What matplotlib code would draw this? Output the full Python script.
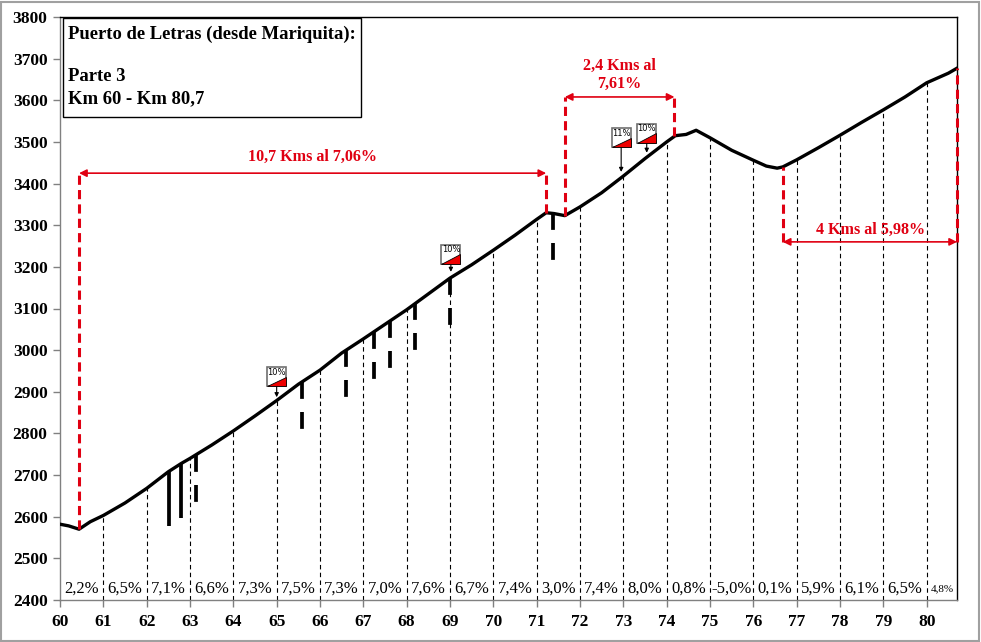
import numpy as np
import matplotlib
matplotlib.use("Agg")
import matplotlib.pyplot as plt
from matplotlib.patches import Rectangle, Polygon

# ---------------- data ----------------
km = [60.0, 60.2, 60.44, 60.7, 61.0, 61.5, 62.0, 62.5, 62.8, 63.0, 63.5, 64.0,
      64.5, 65.0, 65.5, 66.0, 66.5, 67.0, 67.5, 68.0, 68.5, 69.0, 69.5, 70.0,
      70.5, 71.0, 71.22, 71.4, 71.65, 72.0, 72.5, 73.0, 73.5, 74.0, 74.2, 74.45,
      74.68, 75.0, 75.5, 76.0, 76.3, 76.55, 76.68, 77.0, 77.5, 78.0, 78.5, 79.0,
      79.5, 80.0, 80.5, 80.7]
elev = [2582, 2578, 2570, 2588, 2603, 2633, 2668, 2708, 2728, 2740, 2772, 2806,
        2842, 2879, 2918, 2952, 2993, 3027, 3062, 3097, 3135, 3173, 3205, 3240,
        3276, 3314, 3330, 3328, 3323, 3344, 3378, 3418, 3460, 3500, 3515, 3518,
        3528, 3510, 3480, 3456, 3442, 3437, 3440, 3457, 3486, 3516, 3547, 3577,
        3608, 3642, 3665, 3677]

km_ticks = list(range(60, 81))
grad_labels = ["2,2%", "6,5%", "7,1%", "6,6%", "7,3%", "7,5%", "7,3%", "7,0%",
               "7,6%", "6,7%", "7,4%", "3,0%", "7,4%", "8,0%", "0,8%", "-5,0%",
               "0,1%", "5,9%", "6,1%", "6,5%", "4,8%"]
grad_pos = [60.5, 61.5, 62.5, 63.5, 64.5, 65.5, 66.5, 67.5, 68.5, 69.5, 70.5,
            71.5, 72.5, 73.5, 74.5, 75.5, 76.5, 77.5, 78.5, 79.5, 80.35]

solid_km = [62.52, 62.79]
solid_bottom = [2577, 2598]
dash_km = [63.13, 65.59, 66.6, 67.24, 67.62, 68.2, 69.0, 71.38]
dash_bottom = [2620, 2792, 2872, 2920, 2943, 2983, 3044, 3200]

flag_km = [65.0, 69.02, 72.95, 73.54]
flag_elev = [2936, 3230, 3510, 3521]
flag_text = ["10%", "10%", "11%", "10%"]
flag_tip = [2887, 3188, 3428, 3474]

climb_start = [60.44, 71.65, 76.68]
climb_end = [71.22, 74.18, 80.7]
climb_arrow_elev = [3425, 3608, 3260]
climb_text = ["10,7 Kms al 7,06%", "2,4 Kms al\n7,61%", "4 Kms al 5,98%"]
climb_text_km = [65.82, 72.9, 78.7]
climb_text_elev = [3464, 3661, 3289]

# ---------------- figure ----------------
SERIF = ["Liberation Serif", "DejaVu Serif"]
RED = "#E00012"
W, H = 981, 642
fig = plt.figure(figsize=(W / 100, H / 100), dpi=100)
ax = fig.add_axes([60 / W, 1 - 600 / H, (957 - 60) / W, (600 - 17) / H])

ax.set_xlim(60, 80.7)
ax.set_ylim(2400, 3800)

def prof(x):
    return np.interp(x, km, elev)

# thin km dashed lines
for k in km_ticks[1:]:
    ax.plot([k, k], [2400, prof(k)], color="black", lw=0.8,
            linestyle=(0, (4, 3)), zorder=1)

# thick markers
for k, b in zip(solid_km, solid_bottom):
    ax.plot([k, k], [b, prof(k)], color="black", lw=2.7, solid_capstyle="butt", zorder=2)
for k, b in zip(dash_km, dash_bottom):
    ax.plot([k, k], [prof(k), b], color="black", lw=2.7, linestyle=(0, (4.5, 3.5)),
            dash_capstyle="butt", zorder=2)

# profile
ax.plot(km, elev, color="black", lw=2.4, zorder=3, solid_joinstyle="round")

# climbs
for s, e, ya, t, tx, ty in zip(climb_start, climb_end, climb_arrow_elev,
                               climb_text, climb_text_km, climb_text_elev):
    for xx in (s, e):
        p = prof(xx)
        ax.plot([xx, xx], [min(p, ya), max(p, ya)], color=RED, lw=2.2,
                linestyle=(0, (3, 1.7)), zorder=4, clip_on=False)
    ax.annotate("", xy=(e, ya), xytext=(s, ya),
                arrowprops=dict(arrowstyle="<|-|>", color=RED, lw=1.2,
                                mutation_scale=11, shrinkA=0, shrinkB=0),
                zorder=4, annotation_clip=False)
    ax.text(tx, ty, t, color=RED, fontsize=11.6, fontweight="bold",
            family=SERIF, ha="center", va="center", linespacing=1.2, zorder=4)

# flags
fw, fh = 0.44, 46
for fk, fe, ft, tip in zip(flag_km, flag_elev, flag_text, flag_tip):
    x0, y0 = fk - fw / 2, fe - fh / 2
    ax.add_patch(Rectangle((x0, y0), fw, fh, facecolor="white",
                           edgecolor="#707070", lw=1.2, zorder=6))
    ax.add_patch(Polygon([(x0, y0), (x0 + fw, y0), (x0 + fw, y0 + 0.5 * fh)],
                         closed=True, facecolor="#EE0000", edgecolor="black",
                         lw=0.6, zorder=7))
    ax.text(fk, y0 + 0.74 * fh, ft, fontsize=6, family="DejaVu Sans",
            ha="center", va="center", zorder=7)
    ax.annotate("", xy=(fk, tip), xytext=(fk, y0),
                arrowprops=dict(arrowstyle="-|>", color="black", lw=0.8,
                                mutation_scale=6, shrinkA=0, shrinkB=0), zorder=6)

# gradient labels
for p, t in zip(grad_pos, grad_labels):
    fs = 8 if t == "4,8%" else 12
    ax.text(p, 2427, t, fontsize=fs, family=SERIF, ha="center", va="center", zorder=5)

# title box
ax.add_patch(Rectangle((0.0033, 0.8285), 0.3323, 0.1695, transform=ax.transAxes,
                       facecolor="white", edgecolor="black", lw=1.0, zorder=8))
ax.text(0.009, 0.9705, "Puerto de Letras (desde Mariquita):", transform=ax.transAxes,
        fontsize=13.4, fontweight="bold", family=SERIF, va="center", ha="left", zorder=9)
ax.text(0.009, 0.8985, "Parte 3", transform=ax.transAxes,
        fontsize=13.4, fontweight="bold", family=SERIF, va="center", ha="left", zorder=9)
ax.text(0.009, 0.8595, "Km 60 - Km 80,7", transform=ax.transAxes,
        fontsize=13.4, fontweight="bold", family=SERIF, va="center", ha="left", zorder=9)

# axes styling
ax.set_xticks(km_ticks)
ax.set_xticklabels([str(k) for k in km_ticks])
ax.set_yticks(range(2400, 3801, 100))
ax.set_yticklabels([str(v) for v in range(2400, 3801, 100)])
for lab in ax.get_xticklabels() + ax.get_yticklabels():
    lab.set_fontfamily(SERIF)
    lab.set_fontweight("bold")
    lab.set_fontsize(12.5)
ax.tick_params(axis="x", direction="out", length=5, width=1, color="#808080", pad=5)
ax.tick_params(axis="y", direction="out", length=5, width=1, color="#808080", pad=4)
ax.spines["left"].set_color("#808080")
ax.spines["bottom"].set_color("#808080")
ax.spines["top"].set_color("black")
ax.spines["right"].set_color("black")
for s in ax.spines.values():
    s.set_linewidth(1.0)

fig.patches.append(Rectangle((0.001, 0.001), 0.997, 0.996, transform=fig.transFigure,
                             fill=False, edgecolor="#A0A0A0", lw=1.5))

fig.savefig("out.png", dpi=100)
